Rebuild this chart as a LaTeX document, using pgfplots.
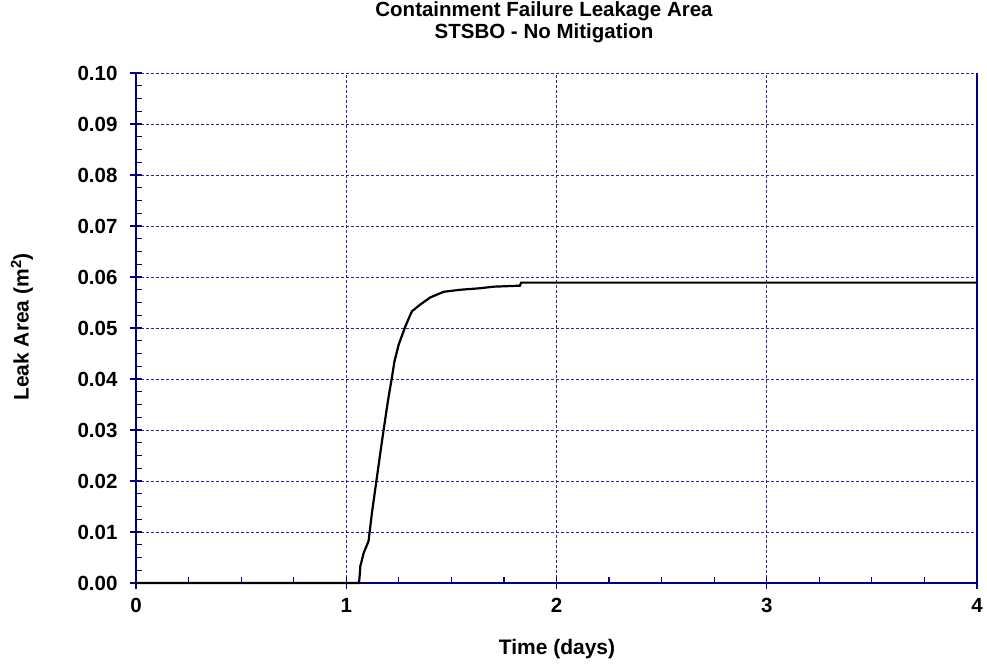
\documentclass[border=0pt]{standalone}
\usepackage{fontspec}
\setmainfont{Liberation Sans}
\usepackage{pgfplots}
\pgfplotsset{compat=1.18}
\definecolor{axnavy}{RGB}{0,0,128}
\definecolor{gridblue}{RGB}{40,40,160}
\begin{document}
\begin{tikzpicture}[x=1pt,y=1pt]
\begin{axis}[
  at={(0,0)}, anchor=south west,
  scale only axis, width=841pt, height=510pt,
  xmin=0, xmax=4, ymin=0, ymax=0.1,
  axis x line*=bottom, axis y line*=left,
  axis line style={axnavy, line width=1.6pt, -},
  xtick={0,1,2,3,4},
  ytick={0,0.01,0.02,0.03,0.04,0.05,0.06,0.07,0.08,0.09,0.1},
  yticklabels={0.00,0.01,0.02,0.03,0.04,0.05,0.06,0.07,0.08,0.09,0.10},
  minor x tick num=3, minor y tick num=3,
  tick align=center,
  major tick length=12pt, minor tick length=6pt,
  minor x tick style={yshift=3pt},
  minor y tick style={xshift=3pt},
  tick style={axnavy, line width=1.2pt},
  grid=major,
  major grid style={gridblue, line width=0.8pt, dash pattern=on 3pt off 2pt},
  /pgf/number format/assume math mode=true,
  ticklabel style={font=\fontsize{20.5}{24}\selectfont\bfseries},
  yticklabel style={xshift=-9pt},
  xticklabel style={yshift=-6pt},
  clip=false,
]
\addplot[black, line width=2.2pt] coordinates {
(0,0) (1.059,0) (1.062,0.0005) (1.067,0.0033) (1.083,0.0059) (1.106,0.0082)
(1.122,0.0137) (1.143,0.0199) (1.162,0.0255) (1.178,0.0301) (1.199,0.0359)
(1.218,0.0405) (1.229,0.0434) (1.249,0.0467) (1.281,0.0503) (1.305,0.0526)
(1.313,0.0533) (1.352,0.0546) (1.400,0.0560) (1.463,0.0571) (1.543,0.0575)
(1.638,0.0578) (1.700,0.0581) (1.765,0.0582) (1.826,0.0583) (1.832,0.0589)
(4,0.0589)
};
\draw[axnavy, line width=1.6pt] (rel axis cs:1,0) -- (rel axis cs:1,1);
\end{axis}
\node[font=\fontsize{20.5}{22}\selectfont\bfseries, align=center] at (408,561) {Containment Failure Leakage Area\\STSBO - No Mitigation};
\node[font=\fontsize{21}{24}\selectfont\bfseries] at (421,-66) {Time (days)};
\node[font=\fontsize{21}{24}\selectfont\bfseries, rotate=90] at (-114,256) {Leak Area (m\textsuperscript{2})};
\pgfresetboundingbox
\path (-136,-83) rectangle (851,583);
\end{tikzpicture}
\end{document}
